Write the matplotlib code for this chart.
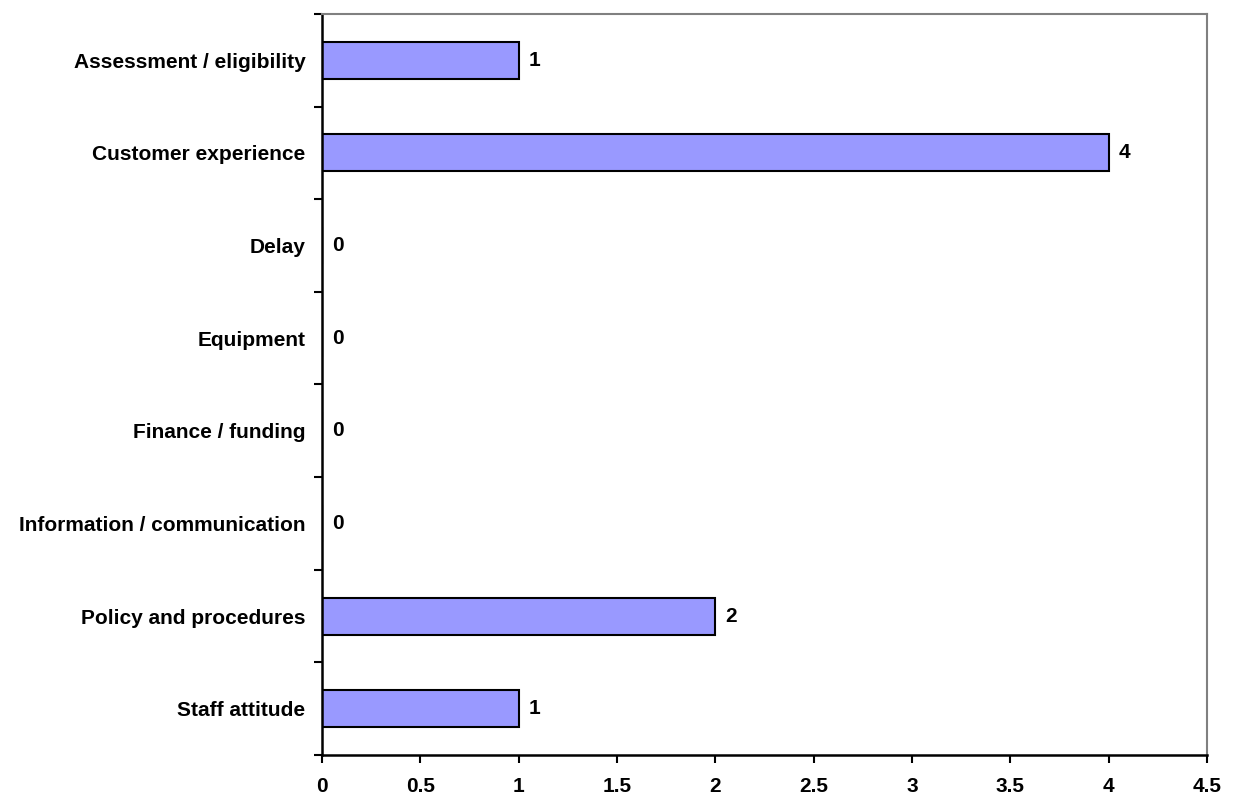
import numpy as np
import matplotlib.pyplot as plt

categories = ['Assessment / eligibility', 'Customer experience', 'Delay', 'Equipment',
              'Finance / funding', 'Information / communication',
              'Policy and procedures', 'Staff attitude']
counts = [1, 4, 0, 0, 0, 0, 2, 1]
xticks = [0, 0.5, 1, 1.5, 2, 2.5, 3, 3.5, 4, 4.5]
xticklabels = ['0', '0.5', '1', '1.5', '2', '2.5', '3', '3.5', '4', '4.5']

plt.rcParams['font.family'] = ['Liberation Sans', 'DejaVu Sans']
plt.rcParams['font.weight'] = 'bold'
fs = 15

fig = plt.figure(figsize=(12.37, 7.98), dpi=100)
ax = fig.add_axes([0.2603, 0.0539, 0.9758 - 0.2603, 0.9825 - 0.0539])

pos = np.arange(len(categories))
ax.barh(pos, counts, height=0.4, color='#9999FF', edgecolor='black', linewidth=1.5)
for p, v in zip(pos, counts):
    ax.annotate(str(v), (v, p), xytext=(7, 0), textcoords='offset points',
                va='center', ha='left', fontsize=fs, fontweight='bold')

ax.set_xlim(0, 4.5)
ax.set_ylim(len(categories) - 0.5, -0.5)
ax.set_xticks(xticks)
ax.set_xticklabels(xticklabels, fontsize=fs, fontweight='bold')
ax.set_yticks(pos)
ax.set_yticklabels(categories, fontsize=fs, fontweight='bold')
ax.set_yticks(np.arange(-0.5, len(categories)), minor=True)
ax.tick_params(axis='y', which='major', length=0, pad=12)
ax.tick_params(axis='y', which='minor', length=6, width=1.5, direction='out')
ax.tick_params(axis='x', length=6, width=1.5, direction='out', pad=10)

for side in ['left', 'bottom']:
    ax.spines[side].set_linewidth(1.8)
for side in ['top', 'right']:
    ax.spines[side].set_color('#808080')
    ax.spines[side].set_linewidth(1.5)

fig.savefig('out.png', dpi=100)
